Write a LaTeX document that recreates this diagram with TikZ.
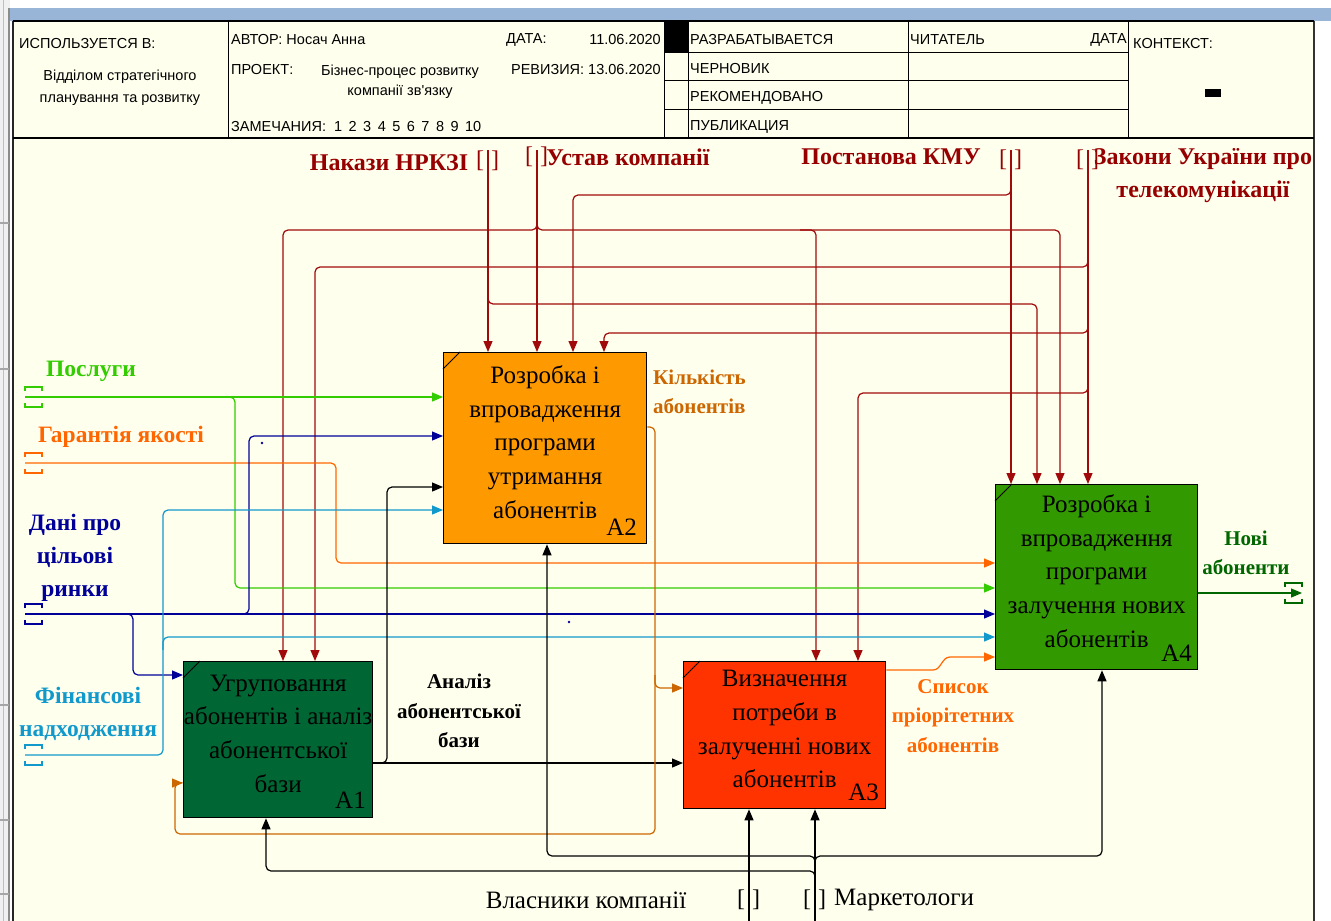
\documentclass[tikz,border=0pt]{standalone}
\usepackage{fontspec}
\setmainfont{Liberation Serif}
\newfontfamily\dgm{Liberation Serif}
\newfontfamily\hdr{Liberation Sans}
\usetikzlibrary{arrows.meta,calc}

\definecolor{cBg}{RGB}{255,255,238}
\definecolor{cBar}{RGB}{152,180,214}
\definecolor{cA1}{RGB}{0,102,51}
\definecolor{cA2}{RGB}{255,153,0}
\definecolor{cA3}{RGB}{255,51,0}
\definecolor{cA4}{RGB}{51,153,0}
\definecolor{cCtrl}{RGB}{160,10,10}
\definecolor{cCtrlT}{RGB}{150,0,0}
\definecolor{cG}{RGB}{51,204,0}
\definecolor{cO}{RGB}{255,102,0}
\definecolor{cB}{RGB}{0,0,153}
\definecolor{cLB}{RGB}{17,153,204}
\definecolor{cK}{RGB}{204,102,0}
\definecolor{cDG}{RGB}{0,102,0}

\tikzset{
  ln/.style={line width=1.2pt, rounded corners=5pt},
  ctrl/.style={ln, draw=cCtrl},
  box/.style={draw=black, line width=1.3pt, inner sep=0pt, anchor=north west},
  boxtxt/.style={align=center, font=\dgm\fontsize{25}{33.8}\selectfont, inner sep=0pt},
  num/.style={font=\dgm\fontsize{25}{30}\selectfont, inner sep=0pt, anchor=base east},
  lbl/.style={align=center, font=\dgm\bfseries\fontsize{23.5}{33}\selectfont, inner sep=0pt},
  tlbl/.style={align=center, font=\dgm\bfseries\fontsize{24}{33}\selectfont, inner sep=0pt},
  slbl/.style={align=center, font=\dgm\bfseries\fontsize{21}{29.5}\selectfont, inner sep=0pt},
  mlbl/.style={font=\dgm\fontsize{25}{30}\selectfont, inner sep=0pt},
  brk/.style={font=\dgm\fontsize{24}{24}\selectfont, inner sep=0pt},
  htxt/.style={font=\hdr\fontsize{14.5}{17}\selectfont, inner sep=0pt},
  tunh/.pic={
    \draw[line width=1.2pt] (0,-6) -- (0,-10) -- (17,-10) -- (17,-6);
    \draw[line width=1.2pt] (0,6) -- (0,10) -- (17,10) -- (17,6);
  }
}

\begin{document}
\begin{tikzpicture}[x=1pt,y=-1pt,>={Triangle[length=11pt,width=9pt]}]
\useasboundingbox (0,0) rectangle (1331,921);
\fill[white] (0,0) rectangle (1331,921);
\fill[black!6] (0,0) rectangle (10,921);
\fill[cBar] (10,8) rectangle (1331,21);
\fill[cBg] (13,21) rectangle (1314,921);

% window edge with ruler ticks
\draw[black!25, line width=1pt] (3,0) -- (3,921);
\draw[black!45, line width=1.5pt] (9,8) -- (9,921);
\foreach \yy in {223,369,705,820,894} \draw[black!35, line width=1.2pt] (0,\yy) -- (9,\yy);
\draw[black!85, line width=2.2pt] (13,21) -- (13,921);
\draw[black!80, line width=1.2pt] (1314,21) -- (1314,921);

% title block
\draw[line width=1.2pt] (13,21) -- (1314,21);
\draw[line width=1.2pt] (13,138) -- (1314,138);
\foreach \xx in {228,664,688,908,1128} \draw[line width=1pt] (\xx,21) -- (\xx,138);
\foreach \yy in {52,80,109} \draw[line width=1pt] (664,\yy) -- (1128,\yy);
\fill (664,21) rectangle (688,52);
\fill (1205,89) rectangle (1221,97);

\node[htxt,anchor=west] (hUsed) at (19,44) {ИСПОЛЬЗУЕТСЯ В:};
\node[htxt] (hDept1) at (120,77) {Відділом стратегічного};
\node[htxt] (hDept2) at (120,100) {планування та розвитку};
\node[htxt,anchor=west] (hAuth) at (231,40) {АВТОР: Носач Анна};
\node[htxt,anchor=west] (hDate) at (506,40) {ДАТА:};
\node[htxt,anchor=east] (hDateV) at (661,40) {11.06.2020};
\node[htxt,anchor=west] (hProj) at (231,70) {ПРОЕКТ:};
\node[htxt] (hProj1) at (400,72) {Бізнес-процес розвитку};
\node[htxt] (hProj2) at (400,92) {компанії зв'язку};
\node[htxt,anchor=east] (hRev) at (661,70) {РЕВИЗИЯ: 13.06.2020};
\node[htxt,anchor=west] (hNotes) at (231,127) {ЗАМЕЧАНИЯ:\hspace{8pt}1\hspace{6.5pt}2\hspace{6.5pt}3\hspace{6.5pt}4\hspace{6.5pt}5\hspace{6.5pt}6\hspace{6.5pt}7\hspace{6.5pt}8\hspace{6.5pt}9\hspace{6.5pt}10};
\node[htxt,anchor=west] (hS1) at (690,40) {РАЗРАБАТЫВАЕТСЯ};
\node[htxt,anchor=west] (hS2) at (690,69) {ЧЕРНОВИК};
\node[htxt,anchor=west] (hS3) at (690,98) {РЕКОМЕНДОВАНО};
\node[htxt,anchor=west] (hS4) at (690,127) {ПУБЛИКАЦИЯ};
\node[htxt,anchor=west] (hRead) at (910,40) {ЧИТАТЕЛЬ};
\node[htxt,anchor=east] (hRDate) at (1127,40) {ДАТА};
\node[htxt,anchor=west] (hCtx) at (1133,44) {КОНТЕКСТ:};

% activity boxes
\node[box,fill=cA2,minimum width=203pt,minimum height=191pt] (A2) at (443,352) {};
\node[box,fill=cA1,minimum width=189pt,minimum height=156pt] (A1) at (183,661) {};
\node[box,fill=cA3,minimum width=202pt,minimum height=147pt] (A3) at (683,661) {};
\node[box,fill=cA4,minimum width=202pt,minimum height=185pt] (A4) at (995,484) {};
\foreach \b in {A1,A2,A3,A4}
  \draw[line width=0.8pt] (\b.north west) ++(0,17) -- ++(17,-17);

\node[boxtxt] (tA2) at ($(A2.center)+(0,-6)$) {Розробка і\\впровадження\\програми\\утримання\\абонентів};
\node[boxtxt] (tA1) at ($(A1.center)+(0,-6)$) {Угруповання\\абонентів і аналіз\\абонентської\\бази};
\node[boxtxt] (tA3) at ($(A3.center)+(0,-6)$) {Визначення\\потреби в\\залученні нових\\абонентів};
\node[boxtxt] (tA4) at ($(A4.center)+(0,-6)$) {Розробка і\\впровадження\\програми\\залучення нових\\абонентів};
\node[num] (nA1) at (366,808) {A1};
\node[num] (nA2) at (637,535) {A2};
\node[num] (nA3) at (879,800) {A3};
\node[num] (nA4) at (1192,661) {A4};

% ---- controls ----
\coordinate (sNak) at (488,150);
\coordinate (sUst) at (537,150);
\coordinate (sPos) at (1011,150);
\coordinate (sZak) at (1088,150);

\node[tlbl,text=cCtrlT] (lNak) at (389,163) {Накази НРКЗІ};
\node[tlbl,text=cCtrlT] (lUst) at (628,157) {Устав компанії};
\node[tlbl,text=cCtrlT] (lPos) at (891,157) {Постанова КМУ};
\node[tlbl,text=cCtrlT] (lZak) at (1203,176) {Закони України про\\телекомунікації};
\foreach \s/\yy in {sNak/161,sUst/157,sPos/160,sZak/160}{
  \node[brk,text=cCtrlT] at ($(\s |- 0,\yy)+(-8,0)$) {[};
  \node[brk,text=cCtrlT] at ($(\s |- 0,\yy)+(7,0)$) {]};
}

\draw[ctrl,->] (sNak) -- (sNak |- A2.north);
\draw[ctrl,->] (488,290) -- (488,304) -- (1037,304) -- (A4.north -| 1037,0);
\draw[ctrl,->] (sUst) -- (sUst |- A2.north);
\draw[ctrl,->] (537,218) -- (537,230) -- (283,230) -- (A1.north -| 283,0);
\draw[ctrl,->] (537,218) -- (537,230) -- (1060,230) -- (A4.north -| 1060,0);
\draw[ctrl,->] (800,230) -- (816,230) -- (A3.north -| 816,0);
\draw[ctrl,->] (sPos) -- (sPos |- A4.north);
\draw[ctrl,->] (1011,182) -- (1011,195) -- (573,195) -- (A2.north -| 573,0);
\draw[ctrl,->] (sZak) -- (sZak |- A4.north);
\draw[ctrl,->] (1088,255) -- (1088,267) -- (315,267) -- (A1.north -| 315,0);
\draw[ctrl,->] (1088,321) -- (1088,333) -- (604,333) -- (A2.north -| 604,0);
\draw[ctrl,->] (1088,381) -- (1088,393) -- (858,393) -- (A3.north -| 858,0);

% ---- inputs ----
\coordinate (sSer) at (25,397);
\coordinate (sGar) at (25,463);
\coordinate (sDat) at (25,614);
\coordinate (sFin) at (25,755);
\pic[color=cG] at (sSer) {tunh};
\pic[color=cO] at (sGar) {tunh};
\pic[color=cB] at (sDat) {tunh};
\pic[color=cLB] at (sFin) {tunh};

\node[lbl,text=cG] (lSer) at (91,371) {Послуги};
\node[lbl,text=cO] (lGar) at (121,437) {Гарантія якості};
\node[lbl,text=cB] (lDat) at (75,558) {Дані про\\цільові\\ринки};
\node[lbl,text=cLB] (lFin) at (88,714) {Фінансові\\надходження};

\draw[ln,draw=cG,->] (sSer) -- (A2.west |- sSer);
\draw[ln,draw=cG,->] (225,397) -- (235,397) -- (235,588) -- (A4.west |- 0,588);
\draw[ln,draw=cO,->] (sGar) -- (336,463) -- (336,563) -- (A4.west |- 0,563);
\draw[ln,draw=cB,->] (sDat) -- (A4.west |- sDat);
\draw[ln,draw=cB,->] (124,614) -- (133,614) -- (133,675) -- (A1.west |- 0,675);
\draw[ln,draw=cB,->] (240,614) -- (249,614) -- (249,436) -- (A2.west |- 0,436);
\draw[ln,draw=cLB,->] (sFin) -- (163,755) -- (163,510) -- (A2.west |- 0,510);
\draw[ln,draw=cLB,->] (163,650) -- (163,637) -- (A4.west |- 0,637);
\fill[cB] (262,443) circle (1.3);
\fill[cB] (569,622) circle (1.3);

% ---- outputs and feedback ----
\node[slbl,text=black] (lAn) at (459,711) {Аналіз\\абонентської\\бази};
\draw[ln,draw=black,->] (A1.east |- 0,763) -- (A3.west |- 0,763);
\draw[ln,draw=black,->] (378,763) -- (387,763) -- (387,487) -- (A2.west |- 0,487);

\node[slbl,text=cK,align=left,anchor=west] (lKil) at (653,392) {Кількість\\абонентів};
\draw[ln,draw=cK,->] (A2.east |- 0,427) -- (655,427) -- (655,834) -- (175,834) -- (175,783) -- (A1.west |- 0,783);
\draw[ln,draw=cK,->] (655,675) -- (655,688) -- (A3.west |- 0,688);

\node[slbl,text=cO] (lSp) at (953,716) {Список\\пріорітетних\\абонентів};
\draw[line width=1.2pt,draw=cO,->] (A3.east |- 0,670) -- (933,670) to[out=0,in=180] (950,657) -- (A4.west |- 0,657);

\node[slbl,text=cDG] (lNew) at (1246,553) {Нові\\абоненти};
\coordinate (tNew) at (1302,593);
\draw[ln,draw=cDG,->] (A4.east |- tNew) -- (tNew);
\pic[color=cDG] at (1285,593) {tunh};

% ---- mechanisms ----
\coordinate (sOwn) at (749,921);
\coordinate (sMkt) at (815,921);
\node[mlbl] (lOwn) at (586,900) {Власники компанії};
\node[mlbl,anchor=west] (lMkt) at (834,900) {Маркетологи};
\foreach \s in {sOwn,sMkt}{
  \node[brk] at ($(\s |- 0,900)+(-8,0)$) {[};
  \node[brk] at ($(\s |- 0,900)+(7,0)$) {]};
}
\draw[ln,draw=black,->] (sOwn) -- (sOwn |- A3.south);
\draw[ln,draw=black,->] (sMkt) -- (sMkt |- A3.south);
\draw[ln,draw=black,->] (815,868) -- (815,856) -- (547,856) -- (A2.south -| 547,0);
\draw[ln,draw=black,->] (815,868) -- (815,856) -- (1102,856) -- (A4.south -| 1102,0);
\draw[ln,draw=black,->] (815,884) -- (815,871) -- (266,871) -- (A1.south -| 266,0);
\end{tikzpicture}
\end{document}
